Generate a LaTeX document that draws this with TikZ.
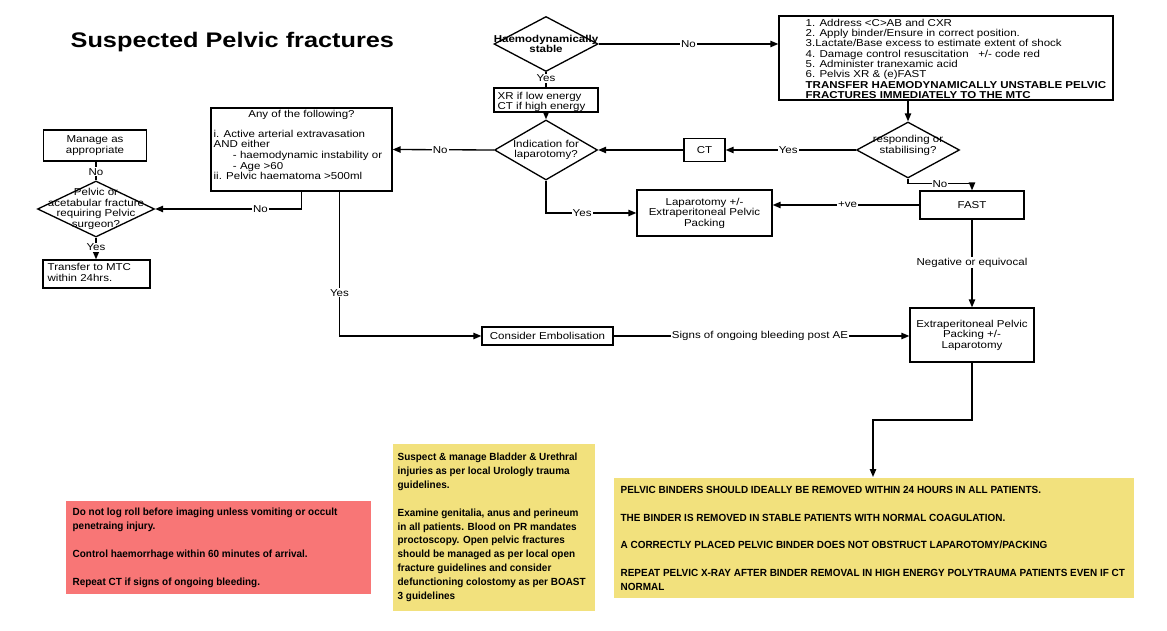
\documentclass[tikz,border=0pt]{standalone}
\usepackage{fontspec}
\setmainfont[FakeStretch=1.15]{Liberation Sans}
\newfontfamily\narfont[FakeStretch=0.96]{Liberation Sans}
\newfontfamily\titlefont[FakeStretch=1.2]{Liberation Sans}
\usetikzlibrary{shapes.geometric,arrows.meta}
\definecolor{notered}{RGB}{248,118,118}
\definecolor{noteyel}{RGB}{242,225,125}
\newcommand\fs{\fontsize{5.7}{6.0}\selectfont}
\newcommand\fsb{\fontsize{5.7}{5.85}\selectfont}
\newcommand\fn{\narfont\bfseries\fontsize{5.9}{7.9}\selectfont}
\tikzset{
  wh/.style 2 args={minimum width=#1*0.02cm, minimum height=#2*0.02cm},
  box/.style={draw, inner sep=0pt, line width=0.75pt},
  dia/.style={draw, diamond, inner sep=0pt, line width=0.75pt},
  txt/.style={inner sep=0pt, font=\fs, align=center},
  ltxt/.style={inner sep=0pt, font=\fs, align=left, anchor=north west},
  arr/.style={-{Triangle[length=4.5pt,width=3.6pt]}},
  lbl/.style={fill=white, inner sep=0.6pt, font=\fs},
  note/.style={inner sep=0pt, anchor=north west},
  notetxt/.style={inner sep=0pt, anchor=north west, align=left, font=\fn},
}
\begin{document}
\begin{tikzpicture}[x=0.02cm,y=-0.02cm, line width=0.75pt]
\useasboundingbox (0,0) rectangle (1167,631);

\node[font=\titlefont\bfseries\fontsize{12}{14}\selectfont, anchor=west, inner sep=0pt] (title) at (70,42) {Suspected Pelvic fractures};

% top
\node[dia, wh={104}{55}] (hs) at (546,44) {};
\node[txt, font=\fs\bfseries] (hst) at (546,44) {Haemodynamically\\stable};
\node[box, wh={104}{24}] (xr) at (546,100) {};
\node[ltxt] (xrt) at (497,91.5) {XR if low energy\\CT if high energy};
\node[dia, wh={103}{60}] (ind) at (546,150) {};
\node[txt] (indt) at (546,150) {Indication for\\laparotomy?};

\node[box, wh={334}{84}] (b1) at (946,58) {};
\node[ltxt, font=\fsb] (b1t) at (805,18.5) {1. Address <C>AB and CXR\\
2. Apply binder/Ensure in correct position.\\
3.Lactate/Base excess to estimate extent of shock\\
4. Damage control resuscitation \ \ +/- code red\\
5. Administer tranexamic acid\\
6. Pelvis XR \& (e)FAST\\
\textbf{TRANSFER HAEMODYNAMICALLY UNSTABLE PELVIC}\\
\textbf{FRACTURES IMMEDIATELY TO THE MTC}};

\node[dia, wh={103}{56}] (resp) at (908,150) {};
\node[txt] (respt) at (908,145.5) {responding or\\stabilising?};
\node[box, wh={41}{23}] (ct) at (704.5,150) {};
\node[txt] (ctt) at (704.5,150) {CT};

\node[box, wh={135}{46}] (lap) at (704.5,213) {};
\node[txt] (lapt) at (704.5,213) {Laparotomy +/-\\Extraperitoneal Pelvic\\Packing};
\node[box, wh={104}{28}] (fast) at (972,205) {};
\node[txt] (fastt) at (972,205) {FAST};

\node[box, wh={124}{54}] (ext) at (972,335) {};
\node[txt] (extt) at (972,335) {Extraperitoneal Pelvic\\Packing +/-\\Laparotomy};
\node[box, wh={131}{18}] (emb) at (547.5,336) {};
\node[txt] (embt) at (547.5,336) {Consider Embolisation};

% left
\node[box, wh={181}{83}] (any) at (301.5,149.5) {};
\node[txt] (anyt1) at (301.5,115) {Any of the following?};
\node[ltxt] (anyt2) at (213,129.5) {i. Active arterial extravasation\\AND either\\\hspace*{11pt}- haemodynamic instability or\\\hspace*{11pt}- Age >60\\ii. Pelvic haematoma >500ml};

\node[dia, wh={117}{56}] (pel) at (96,209) {};
\node[txt] (pelt) at (96,209) {Pelvic or\\acetabular fracture\\requiring Pelvic\\surgeon?};
\node[box, wh={103}{31}] (man) at (95,145.5) {};
\node[txt] (mant) at (95,145.5) {Manage as\\appropriate};
\node[box, wh={107}{28}] (tr) at (96.5,274) {};
\node[ltxt] (trt) at (47,263) {Transfer to MTC\\within 24hrs.};

% notes
\node[note, fill=notered, wh={305}{93}] (red) at (65,500) {};
\node[notetxt] (redt) at (72,507.5) {Do not log roll before imaging unless vomiting or occult\\penetraing injury.\\[7.9pt]Control haemorrhage within 60 minutes of arrival.\\[7.9pt]Repeat CT if signs of ongoing bleeding.};
\node[note, fill=noteyel, wh={202}{167}] (y1) at (392,443) {};
\node[notetxt] (y1t) at (397,452.5) {Suspect \& manage Bladder \& Urethral\\injuries as per local Urologly trauma\\guidelines.\\[7.9pt]Examine genitalia, anus and perineum\\in all patients. Blood on PR mandates\\proctoscopy. Open pelvic fractures\\should be managed as per local open\\fracture guidelines and consider\\defunctioning colostomy as per BOAST\\3 guidelines};
\node[note, fill=noteyel, wh={520}{120}] (y2) at (613,477) {};
\node[notetxt] (y2t) at (620,485.5) {PELVIC BINDERS SHOULD IDEALLY BE REMOVED WITHIN 24 HOURS IN ALL PATIENTS.\\[7.9pt]THE BINDER IS REMOVED IN STABLE PATIENTS WITH NORMAL COAGULATION.\\[7.9pt]A CORRECTLY PLACED PELVIC BINDER DOES NOT OBSTRUCT LAPAROTOMY/PACKING\\[7.9pt]REPEAT PELVIC X-RAY AFTER BINDER REMOVAL IN HIGH ENERGY POLYTRAUMA PATIENTS EVEN IF CT\\NORMAL};

% connectors
\draw[arr] (hs.east) -- (hs.east -| b1.west) node[lbl, pos=0.5] (l1) {No};
\draw (hs.south) -- (xr.north) node[lbl, pos=0.4] (l2) {Yes};
\draw[arr] (xr.south) -- (ind.north);
\draw[arr] (b1.south -| resp.north) -- (resp.north);
\draw[arr] (resp.west) -- (ct.east) node[lbl, pos=0.52] (l3) {Yes};
\draw[arr] (ct.west) -- (ind.east);
\draw[arr] (ind.west) -- (any.east) node[lbl, pos=0.53] (l4) {No};
\draw[arr] (ind.south) |- (lap.west) node[lbl, pos=0.7] (l5) {Yes};
\draw[arr] (resp.south) -- ++(0,5) -| (fast.north) node[lbl, pos=0.25] (l6) {No};
\draw[arr] (fast.west) -- (fast.west -| lap.east) node[lbl, pos=0.49] (l7) {+ve};
\draw[arr] (fast.south) -- (ext.north) node[lbl, pos=0.49] (l8) {Negative or equivocal};
\draw[arr] (any.south) |- (pel.east) node[lbl, pos=0.64] (l9) {No};
\draw[arr] ([xshift=0.76cm]any.south) |- (emb.west) node[lbl, pos=0.35] (l10) {Yes};
\draw (pel.north) -- (pel.north |- man.south) node[lbl, pos=0.45] (l11) {No};
\draw[arr] (pel.south) -- (pel.south |- tr.north) node[lbl, pos=0.45] (l12) {Yes};
\draw[arr] (emb.east) -- (emb.east -| ext.west) node[lbl, pos=0.495] (l13) {Signs of ongoing bleeding post AE};
\coordinate (bend) at (873,420);
\draw[arr] (ext.south) |- (bend) -- (bend |- y2.north);
\end{tikzpicture}
\end{document}
